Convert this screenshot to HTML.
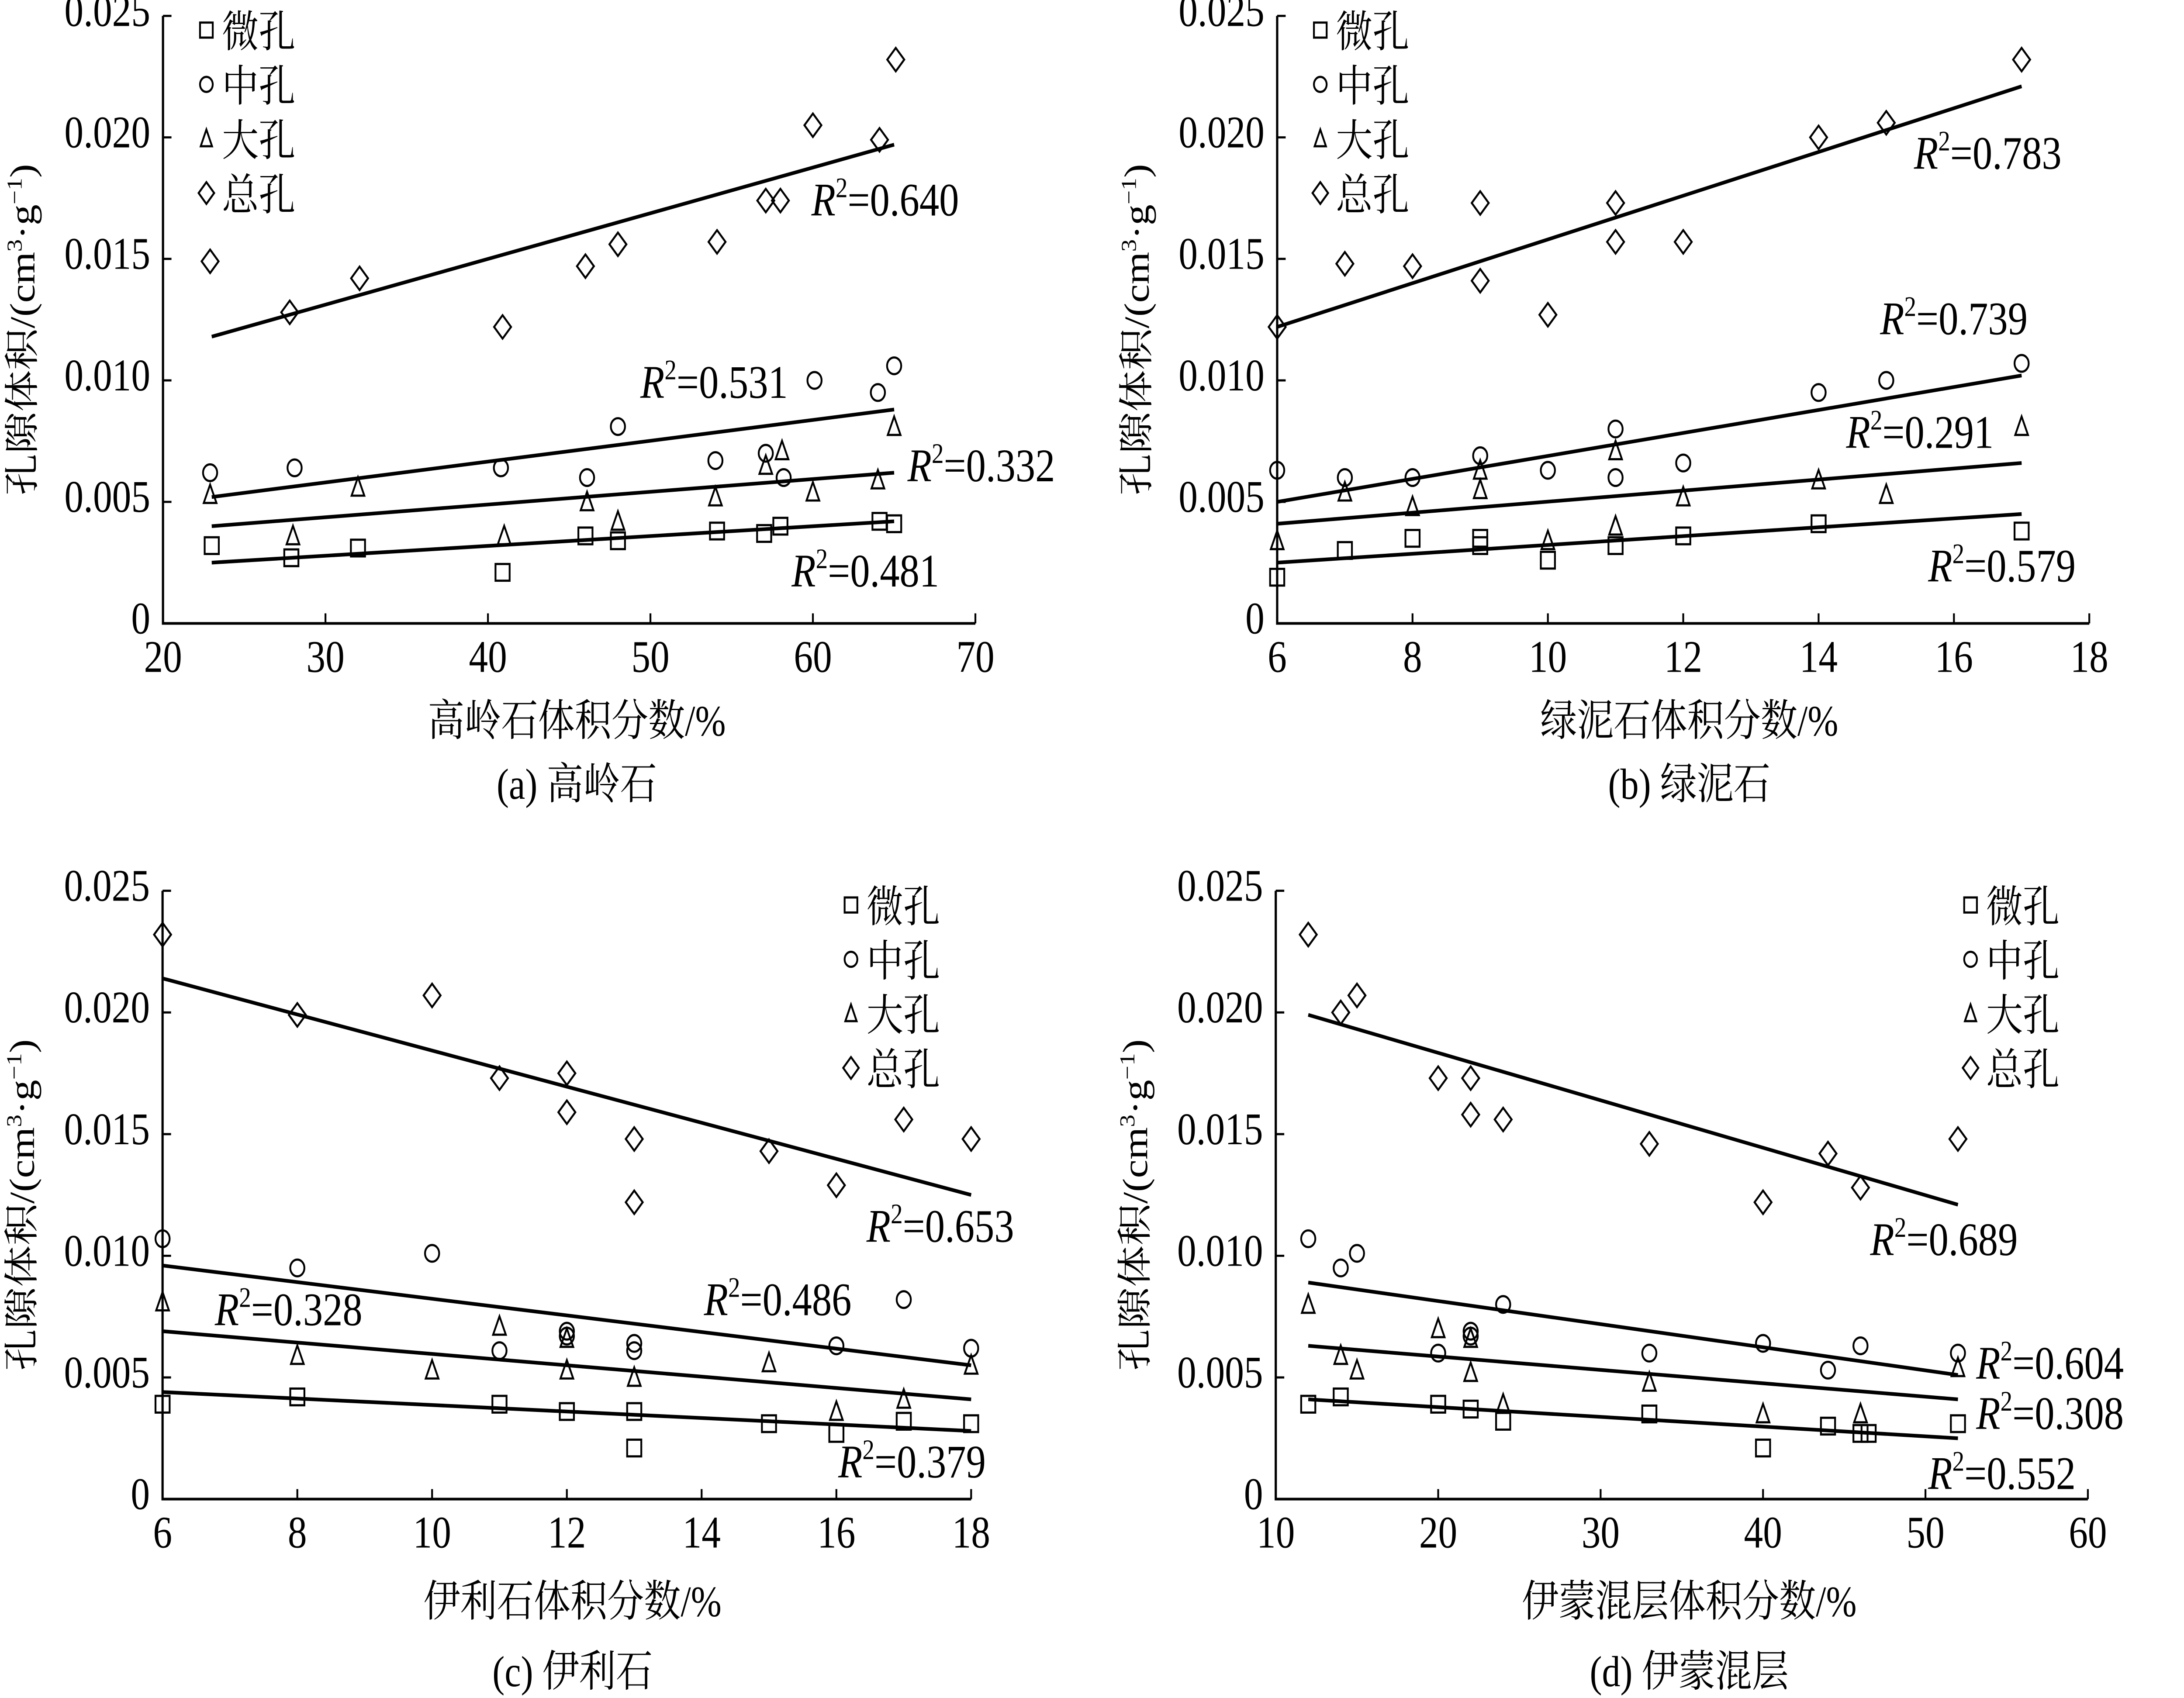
<!DOCTYPE html>
<html><head><meta charset="utf-8"><style>
html,body{margin:0;padding:0;background:#fff;overflow:hidden;width:100%;height:100%;}
svg{display:block;position:fixed;left:0;top:0;width:100vw;height:100vh;}
text{font-family:"Liberation Serif","Noto Serif CJK SC","Noto Sans CJK SC",serif;fill:#000;}
</style></head><body>
<svg id="chart" viewBox="0 0 1545 1016" preserveAspectRatio="none" xmlns="http://www.w3.org/2000/svg"></svg>
<script>
// ---- Panel (a) kaolinite ----
const aTotalX=[22.9,27.8,32.1,40.9,46,48,54.1,57.1,58,60,64.1,65.1];
const aTotalY=[0.0149,0.0128,0.0142,0.0122,0.0147,0.0156,0.0157,0.0174,0.0174,0.0205,0.0199,0.0232];
const aMesoX=[22.9,28.1,40.8,46.1,48,54,57.1,58.2,60.1,64,65];
const aMesoY=[0.0062,0.0064,0.0064,0.0060,0.0081,0.0067,0.0070,0.0060,0.0100,0.0095,0.0106];
const aMacroX=[22.9,28,32,41,46.1,48,54,57.1,58.1,60,64,65];
const aMacroY=[0.0053,0.0036,0.0056,0.0036,0.0050,0.0042,0.0052,0.0065,0.0071,0.0054,0.0059,0.0081];
const aMicroX=[23,27.9,32,40.9,46,48,54.1,57,58,64.1,65];
const aMicroY=[0.0032,0.0027,0.0031,0.0021,0.0036,0.0034,0.0038,0.0037,0.0040,0.0042,0.0041];
const aLineX=[23,65];
const aLineTotal=[0.0118,0.0197];
const aLineMeso=[0.0052,0.0088];
const aLineMacro=[0.0040,0.0062];
const aLineMicro=[0.0025,0.0042];
const aR2=["0.640","0.531","0.332","0.481"];
const aXTicks=[20,30,40,50,60,70];
// ---- Panel (b) chlorite ----
const bTotalX=[6,7,8,9,9,10,11,11,12,14,15,17];
const bTotalY=[0.0122,0.0148,0.0147,0.0173,0.0141,0.0127,0.0173,0.0157,0.0157,0.0200,0.0206,0.0232];
const bMesoX=[6,7,8,9,10,11,11,12,14,15,17];
const bMesoY=[0.0063,0.0060,0.0060,0.0069,0.0063,0.0080,0.0060,0.0066,0.0095,0.0100,0.0107];
const bMacroX=[6,7,8,9,9,10,11,11,12,14,15,17];
const bMacroY=[0.0034,0.0054,0.0048,0.0063,0.0055,0.0034,0.0071,0.0040,0.0052,0.0059,0.0053,0.0081];
const bMicroX=[6,7,8,9,9,10,11,12,14,17];
const bMicroY=[0.0019,0.0030,0.0035,0.0035,0.0032,0.0026,0.0032,0.0036,0.0041,0.0038];
const bLineX=[6,17];
const bLineTotal=[0.0122,0.0221];
const bLineMeso=[0.0050,0.0102];
const bLineMacro=[0.0041,0.0066];
const bLineMicro=[0.0025,0.0045];
const bR2=["0.783","0.739","0.291","0.579"];
const bXTicks=[6,8,10,12,14,16,18];
// ---- Panel (c) illite ----
const cTotalX=[6,8,10,11,12,12,13,13,15,16,17,18];
const cTotalY=[0.0232,0.0199,0.0207,0.0173,0.0175,0.0159,0.0148,0.0122,0.0143,0.0129,0.0156,0.0148];
const cMesoX=[6,8,10,11,12,12,13,13,16,17,18];
const cMesoY=[0.0107,0.0095,0.0101,0.0061,0.0069,0.0067,0.0064,0.0061,0.0063,0.0082,0.0062];
const cMacroX=[6,8,10,11,12,12,13,15,16,17,18];
const cMacroY=[0.0081,0.0059,0.0053,0.0071,0.0066,0.0053,0.0050,0.0056,0.0036,0.0041,0.0055];
const cMicroX=[6,8,11,12,13,13,15,16,17,18];
const cMicroY=[0.0039,0.0042,0.0039,0.0036,0.0036,0.0021,0.0031,0.0027,0.0032,0.0031];
const cLineX=[6,18];
const cLineTotal=[0.0214,0.0125];
const cLineMeso=[0.0096,0.0055];
const cLineMacro=[0.0069,0.0041];
const cLineMicro=[0.0044,0.0028];
const cR2=["0.653","0.486","0.328","0.379"];
const cXTicks=[6,8,10,12,14,16,18];
// ---- Panel (d) illite/smectite ----
const dTotalX=[12,14,15,20,22,22,24,33,40,44,46,52];
const dTotalY=[0.0232,0.0200,0.0207,0.0173,0.0173,0.0158,0.0156,0.0146,0.0122,0.0142,0.0128,0.0148];
const dMesoX=[12,14,15,20,22,22,24,33,40,44,46,52];
const dMesoY=[0.0107,0.0095,0.0101,0.0060,0.0069,0.0067,0.0080,0.0060,0.0064,0.0053,0.0063,0.0060];
const dMacroX=[12,14,15,20,22,22,24,33,40,46,52];
const dMacroY=[0.0080,0.0059,0.0053,0.0070,0.0066,0.0052,0.0039,0.0048,0.0035,0.0035,0.0054];
const dMicroX=[12,14,20,22,24,33,40,44,46,46.5,52];
const dMicroY=[0.0039,0.0042,0.0039,0.0037,0.0032,0.0035,0.0021,0.0030,0.0027,0.0027,0.0031];
const dLineX=[12,52];
const dLineTotal=[0.0199,0.0121];
const dLineMeso=[0.0089,0.0051];
const dLineMacro=[0.0063,0.0041];
const dLineMicro=[0.0041,0.0025];
const dR2=["0.689","0.604","0.308","0.552"];
const dXTicks=[10,20,30,40,50,60];
const yTicks=[0,0.005,0.010,0.015,0.020,0.025];
const yTickLabels=["0","0.005","0.010","0.015","0.020","0.025"];
const legendNames=["微孔","中孔","大孔","总孔"];

const NS="http://www.w3.org/2000/svg";
const svg=document.getElementById('chart');
function mk(tag,attrs,parent){const e=document.createElementNS(NS,tag);for(const k in attrs)e.setAttribute(k,attrs[k]);(parent||svg).appendChild(e);return e;}

function marker(g,kind,cx,cy,s){
  let e;
  if(kind===0){e=mk('rect',{x:cx-s,y:cy-s,width:2*s,height:2*s,fill:'none',stroke:'#000','stroke-width':1.3},g);}
  else if(kind===1){e=mk('circle',{cx:cx,cy:cy,r:s,fill:'none',stroke:'#000','stroke-width':1.3},g);}
  else if(kind===2){e=mk('polygon',{points:`${cx},${cy-s-1} ${cx-s+0.5},${cy+s} ${cx+s-0.5},${cy+s}`,fill:'none',stroke:'#000','stroke-width':1.3},g);}
  else {e=mk('polygon',{points:`${cx},${cy-s-2} ${cx+s+1},${cy} ${cx},${cy+s+2} ${cx-s-1},${cy}`,fill:'none',stroke:'#000','stroke-width':1.3},g);}
  return e;
}

function panel(p){
  const g=mk('g',{});
  
  
  const X=v=>p.px0+(v-p.xmin)/(p.xmax-p.xmin)*(p.px1-p.px0);
  const Y=v=>p.py0+(v/0.025)*(p.py1-p.py0);
  const ax=mk('path',{d:`M${p.px0},${p.py1} L${p.px0},${p.py0} L${p.px1},${p.py0}`,fill:'none',stroke:'#000','stroke-width':1.6},g);
  
  
  p.xt.forEach(v=>{
    mk('line',{x1:X(v),x2:X(v),y1:p.py0,y2:p.py0-6,stroke:'#000','stroke-width':1.3},g);
    const t=mk('text',{x:X(v),y:p.py0+29,'text-anchor':'middle','font-size':27},g);
    t.textContent=v;
    
    
  });
  yTicks.forEach((v,i)=>{
    mk('line',{x1:p.px0,x2:p.px0+6,y1:Y(v),y2:Y(v),stroke:'#000','stroke-width':1.3},g);
    const t=mk('text',{x:p.px0-9,y:Y(v)+6,'text-anchor':'end','font-size':27},g);
    t.textContent=yTickLabels[i];
    
    
  });
  const yt=mk('text',{x:0,y:0,'text-anchor':'middle','font-size':25,transform:`translate(${p.px0-91},${(p.py0+p.py1)/2+6}) rotate(-90)`},g);
  yt.innerHTML='孔隙体积/(cm<tspan dy="-9" font-size="15">3</tspan><tspan dy="9">·g</tspan><tspan dy="-9" font-size="15">−1</tspan><tspan dy="9">)</tspan>';
  
  
  const xtt=mk('text',{x:p.cx,y:p.py0+p.tOff,'text-anchor':'middle','font-size':26},g);
  xtt.textContent=p.xtitle;
  
  
  const cap=mk('text',{x:p.cx,y:p.py0+p.cOff,'text-anchor':'middle','font-size':26},g);
  cap.textContent=p.caption;
  
  
  const series=[[p.microX,p.microY,p.lMicro,'micropore'],[p.mesoX,p.mesoY,p.lMeso,'mesopore'],[p.macroX,p.macroY,p.lMacro,'macropore'],[p.totX,p.totY,p.lTot,'total-pore']];
  series.forEach((s,k)=>{
    const sg=mk('g',{},g);
    
    
    s[0].forEach((xv,i)=>{
      const m=marker(sg,k,X(xv),Y(s[1][i]),5);
      
      
    });
    const ln=mk('line',{x1:X(p.lx[0]),y1:Y(s[2][0]),x2:X(p.lx[1]),y2:Y(s[2][1]),stroke:'#000','stroke-width':2.2},sg);
    
    
  });
  p.r2pos.forEach((pos,i)=>{
    const t=mk('text',{x:pos[0],y:pos[1],'font-size':28},g);
    t.innerHTML='<tspan font-style="italic">R</tspan><tspan dy="-11" font-size="17">2</tspan><tspan dy="11">='+p.r2[i]+'</tspan>';
    
    
  });
  legendNames.forEach((n,i)=>{
    const ly=p.leg[1]+i*p.leg[2];
    const lg=mk('g',{},g);
    
    
    marker(lg,i,p.leg[0],ly,4.5);
    const t=mk('text',{x:p.leg[0]+11,y:ly+10,'font-size':26},lg);
    t.textContent=n;
  });
}

panel({id:'a',xmin:20,xmax:70,px0:115.3,px1:690,py0:373,py1:9.5,xt:aXTicks,cx:408,tOff:67,cOff:105,xtitle:'高岭石体积分数/%',caption:'(a)  高岭石',
  totX:aTotalX,totY:aTotalY,mesoX:aMesoX,mesoY:aMesoY,macroX:aMacroX,macroY:aMacroY,microX:aMicroX,microY:aMicroY,
  lx:aLineX,lTot:aLineTotal,lMeso:aLineMeso,lMacro:aLineMacro,lMicro:aLineMicro,r2:aR2,
  r2pos:[[574,129],[453,238],[642,288],[560,351]],leg:[146,18,32.5]});
panel({id:'b',xmin:6,xmax:18,px0:903.5,px1:1478,py0:373,py1:9.5,xt:bXTicks,cx:1195,tOff:67,cOff:105,xtitle:'绿泥石体积分数/%',caption:'(b)  绿泥石',
  totX:bTotalX,totY:bTotalY,mesoX:bMesoX,mesoY:bMesoY,macroX:bMacroX,macroY:bMacroY,microX:bMicroX,microY:bMicroY,
  lx:bLineX,lTot:bLineTotal,lMeso:bLineMeso,lMacro:bLineMacro,lMicro:bLineMicro,r2:bR2,
  r2pos:[[1354,101],[1330,200],[1306,268],[1364,348]],leg:[934,18,32.5]});
panel({id:'c',xmin:6,xmax:18,px0:115,px1:687,py0:897,py1:533,xt:cXTicks,cx:405,tOff:70,cOff:112,xtitle:'伊利石体积分数/%',caption:'(c)  伊利石',
  totX:cTotalX,totY:cTotalY,mesoX:cMesoX,mesoY:cMesoY,macroX:cMacroX,macroY:cMacroY,microX:cMicroX,microY:cMicroY,
  lx:cLineX,lTot:cLineTotal,lMeso:cLineMeso,lMacro:cLineMacro,lMicro:cLineMicro,r2:cR2,
  r2pos:[[613,743],[498,787],[152,793],[593,884]],leg:[602,541.5,32.5]});
panel({id:'d',xmin:10,xmax:60,px0:902.5,px1:1477,py0:897,py1:533,xt:dXTicks,cx:1195,tOff:70,cOff:112,xtitle:'伊蒙混层体积分数/%',caption:'(d)  伊蒙混层',
  totX:dTotalX,totY:dTotalY,mesoX:dMesoX,mesoY:dMesoY,macroX:dMacroX,macroY:dMacroY,microX:dMicroX,microY:dMicroY,
  lx:dLineX,lTot:dLineTotal,lMeso:dLineMeso,lMacro:dLineMacro,lMicro:dLineMicro,r2:dR2,
  r2pos:[[1323,751],[1398,825],[1398,855],[1364,891]],leg:[1394,541.5,32.5]});
</script>
</body></html>
